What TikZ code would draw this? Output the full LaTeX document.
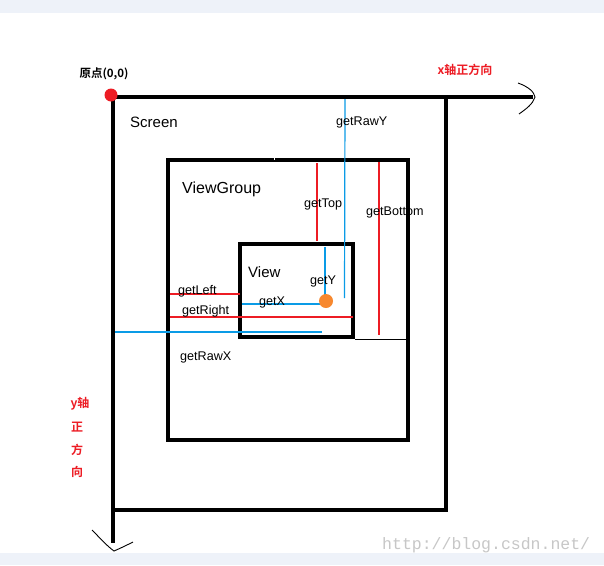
\documentclass[tikz,border=0pt]{standalone}
\usepackage{fontspec}
\setmainfont{Liberation Sans}
\newfontfamily\cjk{Noto Sans CJK SC}[BoldFont={* Bold}]
\newfontfamily\wmfont{Liberation Mono}
\definecolor{pred}{HTML}{ED1C24}
\definecolor{pblue}{HTML}{0A9BE6}
\definecolor{porange}{HTML}{F7882F}
\definecolor{strip}{HTML}{EEF2F9}
\begin{document}
\begin{tikzpicture}[x=1pt,y=-1pt,
  box/.style={line width=4.6pt,draw=black},
  redline/.style={draw=pred,line width=1.2pt},
  blueline/.style={draw=pblue,line width=1.2pt},
  lbl/.style={inner sep=0pt,font=\fontsize{12.6}{14}\selectfont},
  axislbl/.style={inner sep=0pt,text=pred,font=\cjk\bfseries\fontsize{12}{14}\selectfont},
  hand/.style={draw=black,line width=0.9pt}]
\useasboundingbox (0,0) rectangle (604,565);
\fill[white] (0,0) rectangle (604,565);
\fill[strip] (0,0) rectangle (604,13);
\fill[strip] (0,553) rectangle (604,565);

% coordinates
\coordinate (o) at (111,95);
\coordinate (xend) at (533,97);
\coordinate (yend) at (113,543);
\coordinate (s1) at (113,97);
\coordinate (s2) at (446,510);
\coordinate (g1) at (168,160);
\coordinate (g2) at (408,440);
\coordinate (v1) at (240,244);
\coordinate (v2) at (353,337);
\coordinate (p) at (326,301);

% Screen and axes
\draw[box,line cap=butt] (111,97) -- (xend);
\draw[box,line cap=butt] (s1) -- (yend);
\draw[box] (s1) rectangle (s2);
% hand-drawn arrow heads
\draw[hand] (518,83) .. controls (529,87) and (534,92) .. (535,97) .. controls (533,104) and (526,109) .. (519,114);
\draw[hand] (92,530) .. controls (100,538) and (107,546) .. (114,551) .. controls (121,548) and (127,545) .. (133,542);

% ViewGroup
\draw[box,line width=4.2pt] (g1) rectangle (g2);
\draw[white,line width=1pt] (274,157.5) -- (274,159.5);
% View
\draw[box] (v1) rectangle (v2);
\coordinate (vb) at (355,339);
\coordinate (gb) at (410,339);
\draw[black,line width=1pt] (vb) -- (gb);

% red lines (relative to parent)
\coordinate (t1) at (317,163); \coordinate (t2) at (317,241);
\coordinate (b1) at (379,162); \coordinate (b2) at (379,335);
\coordinate (l1) at (170,294); \coordinate (l2) at (240,294);
\coordinate (r1) at (170,317); \coordinate (r2) at (353,317);
\draw[redline] (t1) -- (t2);
\draw[redline] (b1) -- (b2);
\draw[redline] (l1) -- (l2);
\draw[redline] (r1) -- (r2);

% blue lines
\coordinate (ry1) at (345,99); \coordinate (ry2) at (344.5,298);
\coordinate (y1) at (325,247); \coordinate (y2) at (325,300);
\coordinate (x1) at (242,304); \coordinate (x2) at (323,304);
\coordinate (rx1) at (115,332); \coordinate (rx2) at (322,332);
\draw[blueline] (ry1) -- (ry2);
\draw[blueline] (y1) -- (y2);
\draw[blueline] (x1) -- (x2);
\draw[blueline] (rx1) -- (rx2);

% points
\fill[pred] (o) circle (6.5);
\fill[porange] (p) circle (7);

% labels
\node[inner sep=0pt,font=\cjk\bfseries\fontsize{11.5}{14}\selectfont] (orig) at (104,74) {原点(0,0)};
\node[axislbl] (xl) at (465,70) {x轴正方向};
\node[axislbl] (yl1) at (80,404) {y轴};
\node[axislbl] (yl2) at (77,427) {正};
\node[axislbl] (yl3) at (77,450) {方};
\node[axislbl] (yl4) at (77,472) {向};

\node[inner sep=0pt,anchor=west,font=\fontsize{15}{17}\selectfont] (screen) at (130,122) {Screen};
\node[inner sep=0pt,anchor=west,font=\fontsize{16}{18}\selectfont] (vg) at (182,189) {ViewGroup};
\node[inner sep=0pt,anchor=west,font=\fontsize{15}{17}\selectfont] (view) at (248,272) {View};

\node[lbl,anchor=west] (lrawy) at (336,122) {getRawY};
\node[lbl,anchor=west] (ltop) at (304,204) {getTop};
\node[lbl,anchor=west] (lbot) at (366,212) {getBottom};
\node[lbl,anchor=west] (ly) at (310,281) {getY};
\node[lbl,anchor=west] (lleft) at (178,291) {getLeft};
\node[lbl,anchor=west] (lx) at (259,302) {getX};
\node[lbl,anchor=west] (lright) at (182,311) {getRight};
\node[lbl,anchor=west] (lrawx) at (180,357) {getRawX};

\node[inner sep=0pt,anchor=west,text=black!22,font=\wmfont\fontsize{16.5}{18}\selectfont] (wm) at (382,545) {http://blog.csdn.net/};
\end{tikzpicture}
\end{document}
